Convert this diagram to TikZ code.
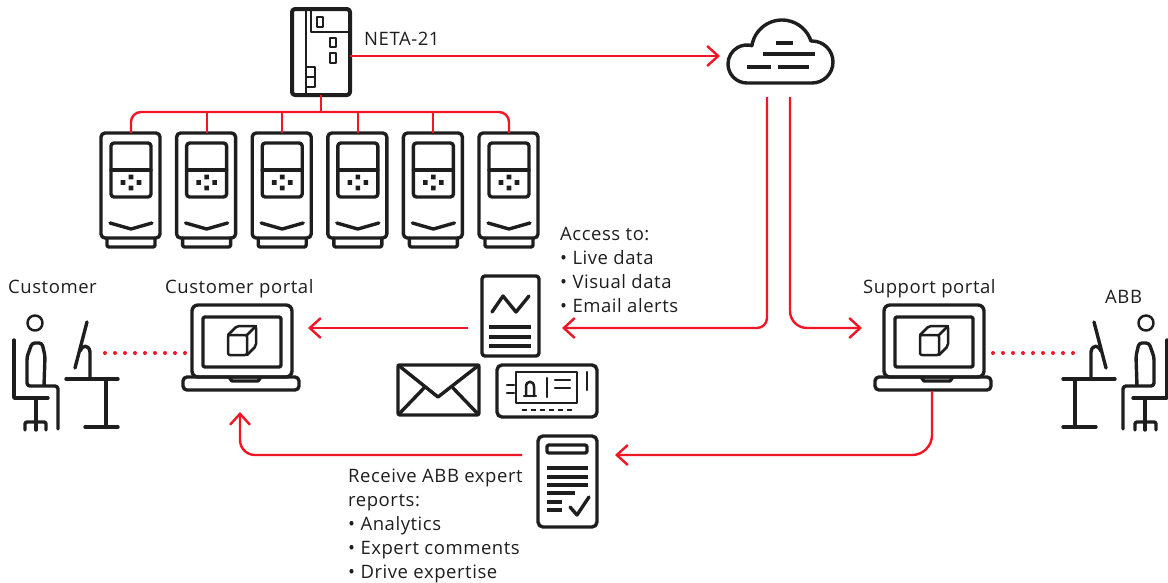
\documentclass[tikz,border=0pt]{standalone}
\usepackage{fontspec}
\setmainfont[LetterSpace=3]{Open Sans}
\usetikzlibrary{calc,arrows.meta}
\definecolor{abbred}{RGB}{240,22,38}
\definecolor{ink}{RGB}{30,30,30}
\tikzset{
	icon/.style={line width=3.4pt, color=ink, line cap=round, line join=round},
	thin icon/.style={icon, line width=2.5pt},
	link/.style={line width=2.4pt, color=abbred},
	tip/.style={-{Straight Barb[length=11pt,width=20pt]}},
	label/.style={inner sep=0pt, text=ink, font=\fontsize{18.5}{24}\selectfont},
	reddots/.style={abbred, line width=4pt, line cap=round, dash pattern=on 0pt off 10pt},
}
% one drive, drawn at the first slot and shifted by #1
\def\drive#1{\begin{scope}[xshift=#1pt]
	\draw[icon, rounded corners=4pt] (101,133) rectangle (160,238);
	\draw[icon, rounded corners=2pt] (107,238) |- (155,247) -- (155,238);
	\draw[icon, rounded corners=3pt] (111,143) rectangle (151,197);
	\draw[icon] (111,170) -- (151,170);
	\fill[ink] (128.7,174.7) rectangle +(4.6,4.6) (120.7,180.2) rectangle +(4.6,4.6) (136.7,180.2) rectangle +(4.6,4.6) (128.7,185.7) rectangle +(4.6,4.6);
	\draw[icon] (110,223) -- (131,229) -- (152,223);
\end{scope}}
% laptop with a cube on the screen
\def\laptop#1{\begin{scope}[xshift=#1pt]
	\draw[icon, rounded corners=6pt] (192,305) rectangle (292,377);
	\draw[icon, rounded corners=2pt] (203,317) rectangle (281,367);
	\draw[icon, rounded corners=4pt] (183,377) rectangle (299,390);
	\draw[icon] (229,377) -- (232,381) -- (258,381) -- (261,377);
	\draw[thin icon, rounded corners=2pt] (228,335) rectangle (247,355);
	\draw[thin icon, rounded corners=2pt] (228,335) -- (237,326) -- (256,326) -- (256,346) -- (247,355);
	\draw[thin icon] (247,335) -- (256,326);
\end{scope}}
% person at a desk
\def\deskman{
	\draw[thin icon] (35,323) circle (7.5);
	\draw[icon, rounded corners=3pt] (44,386) -- (45,356) -- (42,343) -- (32,343) -- (27,357) -- (27,386) -- (58,386) -- (58,429);
	\draw[icon] (14,340) -- (14,398) -- (48,398);
	\draw[icon] (36,398) -- (36,430);
	\draw[icon, rounded corners=2pt] (25,430) |- (46,422) -- (46,430);
	\draw[icon] (66,379) -- (118,379);
	\draw[icon] (106,379) -- (106,427);
	\draw[icon] (85,427) -- (118,427);
	\draw[icon] (87,322) -- (75,368);
	\draw[icon] (80,351) .. controls (82,345) and (89,344) .. (90,352) -- (90,379);
}

\begin{document}
\begin{tikzpicture}[x=1pt, y=-1pt]
	%%%%% START %%%%%
	\useasboundingbox (0,0) rectangle (1168,582);

	% NETA-21
	\draw[icon, line width=4pt, rounded corners=3pt] (292,9) rectangle (350,95);
	\draw[thin icon] (306,9) -- (306,95);
	\draw[thin icon] (311,9) |- (350,32);
	\draw[thin icon] (317,17) rectangle (323,27);
	\draw[thin icon] (330,38) rectangle (336,47);
	\draw[thin icon] (330,53) rectangle (336,63);
	\draw[thin icon] (306,67) rectangle (315,87);
	\draw[thin icon] (306,77) -- (315,77);
	\node[label, anchor=base west] (neta) at (364,45) {NETA-21};

	\drive{0}
	\drive{75.6}
	\drive{151.2}
	\drive{226.8}
	\drive{302.4}
	\drive{378}

	% cloud
	\draw[icon] (747,83) arc[start angle=90, end angle=285, radius=19]
		-- ($(782,50.5)+(190:30.5)$) arc[start angle=190, end angle=342, radius=30.5]
		-- ($(812,62)+(270:21)$) arc[start angle=270, end angle=450, radius=21] -- cycle;
	\draw[icon, line cap=butt] (776,43) -- (793,43);
	\draw[icon, line cap=butt] (763,54) -- (815,54);
	\draw[icon, line cap=butt] (747,67) -- (771,67);
	\draw[icon, line cap=butt] (778,67) -- (809,67);

	% data sheet
	\draw[icon, rounded corners=3pt] (482,276) rectangle (539,356);
	\draw[icon] (492,312) -- (503,296) -- (516,312) -- (529,296);
	\draw[icon, line cap=butt] (489,327) -- (531,327);
	\draw[icon, line cap=butt] (489,337) -- (531,337);
	\draw[icon, line cap=butt] (489,346) -- (531,346);

	% envelope
	\draw[icon, rounded corners=2pt] (398,365) rectangle (479,415);
	\draw[icon] (398,365) -- (438,397) -- (479,365);
	\draw[icon] (399,414) -- (424,388);
	\draw[icon] (478,414) -- (453,388);

	% control panel
	\draw[icon, rounded corners=5pt] (497,365) rectangle (597,417);
	\draw[thin icon] (516,372) rectangle (577,403);
	\draw[thin icon] (524,396) -- (536,396);
	\draw[thin icon] (526,396) -- (526,387) .. controls (526,380) and (534,380) .. (534,387) -- (534,396);
	\draw[thin icon] (547,378) -- (547,397);
	\draw[thin icon] (555,380) -- (570,380);
	\draw[thin icon] (555,388) -- (570,388);
	\draw[thin icon] (587,372) -- (587,390);
	\draw[thin icon] (507,385) -- (514,385);
	\draw[thin icon] (507,393) -- (514,393);
	\draw[thin icon, line cap=butt, dash pattern=on 5pt off 4pt] (522,410) -- (572,410);

	% expert report
	\draw[icon, rounded corners=5pt] (538,436) rectangle (597,527);
	\draw[icon, rounded corners=2pt] (547,445) rectangle (587,453);
	\draw[icon, line cap=butt] (547,468) -- (588,468);
	\draw[icon, line cap=butt] (547,477) -- (588,477);
	\draw[icon, line cap=butt] (547,485) -- (588,485);
	\draw[icon, line cap=butt] (547,493) -- (575,493);
	\draw[icon, line cap=butt] (547,502) -- (562,502);
	\draw[icon, line cap=butt] (547,510) -- (562,510);
	\draw[icon] (570,507) -- (577,515) -- (589,497);

	% portals and people
	\laptop{0}
	\laptop{692}
	\deskman
	\begin{scope}[xshift=1181pt, xscale=-1]
		\deskman
	\end{scope}

	\node[label, anchor=base west] (customer) at (8,293) {Customer};
	\node[label, anchor=base west] (cportal) at (165,293) {Customer portal};
	\node[label, anchor=base west] (sportal) at (863,293) {Support portal};
	\node[label, anchor=base west] (abb) at (1105,303) {ABB};
	\node[label, align=left, anchor=north west] (access) at (560,227)
		{Access to:\\• Live data\\• Visual data\\• Email alerts};
	\node[label, align=left, anchor=north west] (receive) at (348,469)
		{Receive ABB expert\\reports:\\• Analytics\\• Expert comments\\• Drive expertise};

	% connector ends
	\coordinate (neta-e) at (350,56);
	\coordinate (neta-s) at (321,95);
	\coordinate (bus) at (321,112);
	\coordinate (d1) at (131,133);
	\coordinate (d2) at (207,133);
	\coordinate (d3) at (282,133);
	\coordinate (d4) at (358,133);
	\coordinate (d5) at (433,133);
	\coordinate (d6) at (509,133);
	\coordinate (cloud-w) at (720,56);
	\coordinate (cloud-s1) at (767,97);
	\coordinate (cloud-s2) at (790,97);
	\coordinate (sheet-e) at (562,328);
	\coordinate (sheet-w) at (468,328);
	\coordinate (cust-e) at (308,328);
	\coordinate (cust-s) at (240,412);
	\coordinate (cust-w) at (187,353);
	\coordinate (supp-w) at (862,328);
	\coordinate (supp-s) at (932,391);
	\coordinate (supp-e) at (993,353);
	\coordinate (report-e) at (615,455);
	\coordinate (report-w) at (522,455);
	\coordinate (desk-c) at (105,353);
	\coordinate (desk-a) at (1083,353);

	% red links
	\draw[link, tip] (neta-e) -- (cloud-w);
	\draw[link] (neta-s) -- (bus);
	\draw[link, rounded corners=10pt] (d1) -- (d1 |- bus) -- (d6 |- bus) -- (d6);
	\draw[link] (d2) -- (d2 |- bus);
	\draw[link] (d3) -- (d3 |- bus);
	\draw[link] (d4) -- (d4 |- bus);
	\draw[link] (d5) -- (d5 |- bus);
	\draw[link, tip, rounded corners=10pt] (cloud-s1) |- (sheet-e);
	\draw[link, tip, rounded corners=17pt] (cloud-s2) |- (supp-w);
	\draw[link, tip] (sheet-w) -- (cust-e);
	\draw[link, tip, rounded corners=20pt] (supp-s) |- (report-e);
	\draw[link, tip, rounded corners=15pt] (report-w) -| (cust-s);
	\draw[reddots] (desk-c) -- (cust-w);
	\draw[reddots] (supp-e) -- (desk-a);

	%%%%% END %%%%%
\end{tikzpicture}
\end{document}
